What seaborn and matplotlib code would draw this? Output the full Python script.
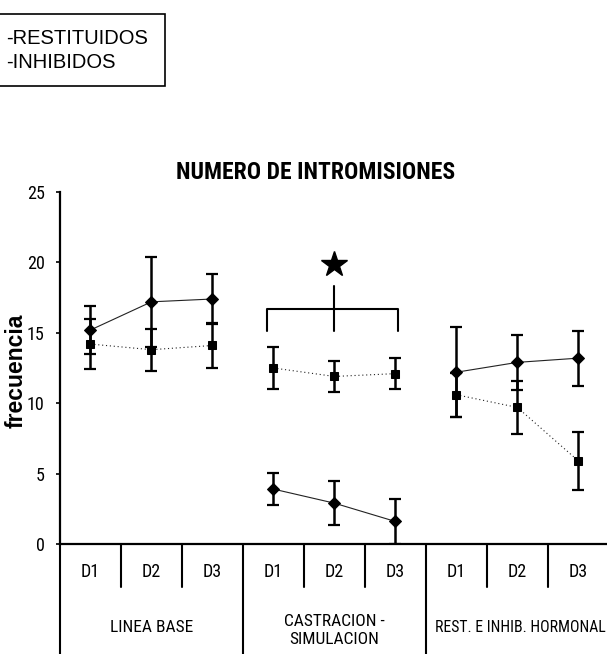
import matplotlib
matplotlib.use("Agg")
import matplotlib.pyplot as plt
import matplotlib.transforms as mtransforms
from matplotlib import font_manager
from matplotlib.patches import Rectangle
import numpy as np
import pandas as pd
import seaborn as sns

# Values per day (D1-D3) in each of the three phases
days = ["D1", "D2", "D3"]
phases = ["LINEA BASE", "CASTRACION -\nSIMULACION", "REST. E INHIB. HORMONAL"]
series = ["RESTITUIDOS", "INHIBIDOS"]

rest_mean = [15.2, 17.2, 17.4, 3.9, 2.9, 1.6, 12.2, 12.9, 13.2]
rest_err = [1.7, 3.2, 1.8, 1.15, 1.55, 1.6, 3.2, 1.95, 1.95]
inhib_mean = [14.2, 13.8, 14.1, 12.5, 11.9, 12.1, 10.6, 9.7, 5.9]
inhib_err = [1.8, 1.5, 1.6, 1.5, 1.1, 1.1, 1.55, 1.9, 2.05]

yticks = [0, 5, 10, 15, 20, 25]

sns.set_theme(style="white")
plt.rcParams["text.color"] = "black"
plt.rcParams["axes.labelcolor"] = "black"
plt.rcParams["ytick.color"] = "black"

# pick a narrow face if one is installed
names = {f.name for f in font_manager.fontManager.ttflist}
narrow_candidates = ["Liberation Sans Narrow", "Arial Narrow", "Roboto Condensed",
                     "Open Sans Condensed", "DejaVu Sans Condensed"]
narrow_name = next((n for n in narrow_candidates if n in names), None)
if narrow_name:
    narrow = {"family": [narrow_name, "DejaVu Sans"]}
else:
    narrow = {"family": ["DejaVu Sans"], "stretch": "condensed"}
arial = ["Liberation Sans", "DejaVu Sans"]
plt.rcParams["font.family"] = narrow["family"]

rows = []
for i in range(len(phases) * len(days)):
    fase = i // len(days)
    rows.append({"pos": i, "value": rest_mean[i], "err": rest_err[i],
                 "serie": series[0], "fase": fase})
    rows.append({"pos": i, "value": inhib_mean[i], "err": inhib_err[i],
                 "serie": series[1], "fase": fase})
df = pd.DataFrame(rows)

fig = plt.figure(figsize=(6.07, 6.54), dpi=100)
ax = fig.add_axes([60 / 607, 110 / 654, 547 / 607, 352 / 654])

# error bars first, then lines and markers on top
for s in series:
    d = df[df["serie"] == s]
    ax.errorbar(d["pos"], d["value"], yerr=d["err"], fmt="none",
                ecolor="black", elinewidth=1.8, capsize=4, capthick=1.6,
                zorder=2)

sns.lineplot(data=df, x="pos", y="value", hue="serie", style="serie",
             units="fase", estimator=None, sort=False,
             palette={series[0]: "#222222", series[1]: "#222222"},
             markers={series[0]: "D", series[1]: "s"},
             dashes={series[0]: "", series[1]: (1, 2.5)},
             markersize=6, linewidth=0.8, legend=False, ax=ax, zorder=3)
for ln in ax.lines:
    ln.set_markeredgecolor("black")
    ln.set_markerfacecolor("black")

ax.set_xlim(-0.5, 8.47)
ax.set_ylim(0, 25)
ax.set_yticks(yticks)
ax.set_yticklabels([str(t) for t in yticks], fontsize=13, **narrow)
ax.set_xticks([])
ax.set_xlabel("")
ax.set_ylabel("")
ax.tick_params(axis="y", direction="out", length=3, width=1.2,
               color="black", pad=8, left=True)
for side in ["top", "right"]:
    ax.spines[side].set_visible(False)
for side in ["left", "bottom"]:
    ax.spines[side].set_color("black")
    ax.spines[side].set_linewidth(1.6)

# significance bracket with star over the castration phase
ax.plot([2.89, 2.89, 5.04, 5.04], [15.1, 16.67, 16.67, 15.1],
        color="black", lw=1.5, zorder=4)
ax.plot([4, 4], [15.1, 18.3], color="black", lw=1.5, zorder=4)
ax.plot([4], [19.9], marker="*", ms=19, color="black", zorder=4)

# category table below the axis
trans = mtransforms.blended_transform_factory(ax.transData, ax.transAxes)
for x in [0.5, 1.5, 3.5, 4.5, 6.5, 7.5]:
    ax.plot([x, x], [0, -0.122], color="black", lw=1.5,
            transform=trans, clip_on=False)
for x in [-0.5, 2.5, 5.5]:
    ax.plot([x, x], [0, -0.3125], color="black", lw=1.5,
            transform=trans, clip_on=False)
for i in range(9):
    ax.text(i, -0.079, days[i % 3], transform=trans, ha="center",
            va="center", fontsize=13, **narrow)
for g, name in enumerate(phases):
    ax.text(g * 3 + 1 + (0.05 if g == 2 else 0),
            -0.247 if "\n" in name else -0.236, name,
            transform=trans, ha="center", va="center",
            fontsize=11.3 if g == 2 else 12.5,
            linespacing=1.25, **narrow)

fig.text(316 / 607, 1 - 172 / 654, "NUMERO DE INTROMISIONES",
         ha="center", va="center", fontsize=17, fontweight="bold", **narrow)
fig.text(16 / 607, 1 - 371 / 654, "frecuencia", rotation=90,
         ha="center", va="center", fontsize=16.5, fontweight="bold",
         family=arial)

# legend box in the upper left corner
fig.patches.append(Rectangle((-0.01, 1 - 86 / 654), 165 / 607 + 0.01,
                             72 / 654, transform=fig.transFigure,
                             fill=False, edgecolor="black", lw=1.2))
fig.text(6 / 607, 1 - 38 / 654, "-" + series[0], ha="left", va="center",
         fontsize=14.5, family=arial)
fig.text(6 / 607, 1 - 63 / 654, "-" + series[1], ha="left", va="center",
         fontsize=14.5, family=arial)

fig.savefig("out.png", dpi=100)
